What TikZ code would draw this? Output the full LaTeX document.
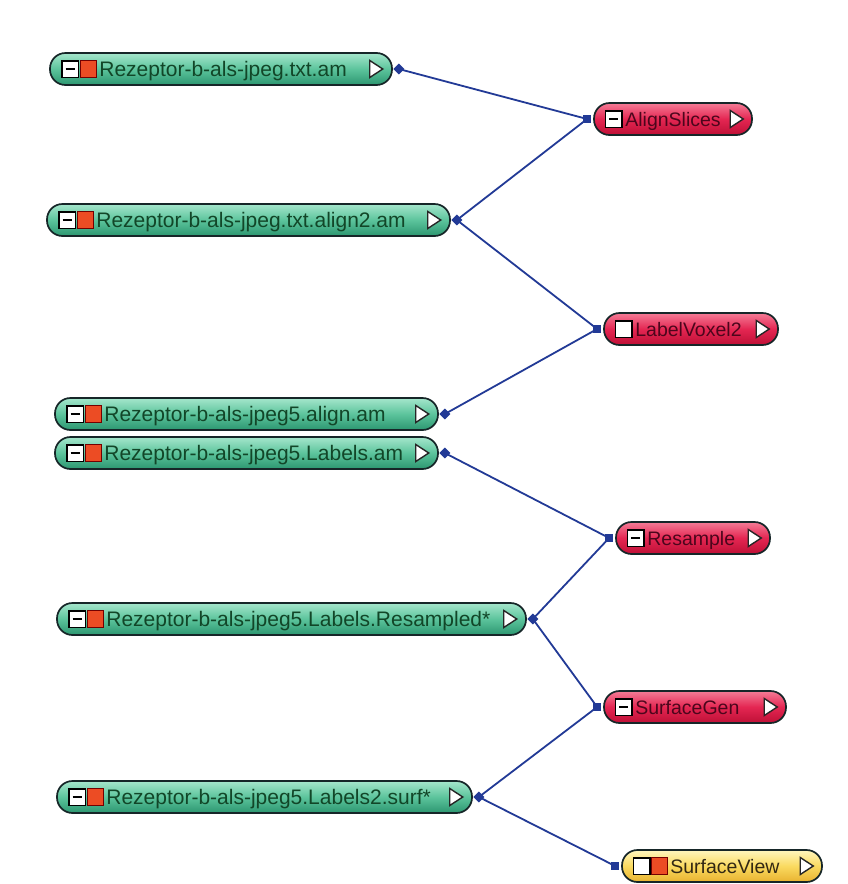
\documentclass[tikz,border=0pt]{standalone}
\usepackage{fontspec}
\setmainfont{Liberation Sans}
\usetikzlibrary{shapes.geometric}
\definecolor{dgtop}{RGB}{165,230,204}
\definecolor{dgmid}{RGB}{92,196,156}
\definecolor{dgbot}{RGB}{44,150,112}
\definecolor{rdtop}{RGB}{244,124,150}
\definecolor{rdmid}{RGB}{228,38,82}
\definecolor{rdbot}{RGB}{190,16,54}
\definecolor{yltop}{RGB}{255,246,190}
\definecolor{ylmid}{RGB}{250,218,96}
\definecolor{ylbot}{RGB}{232,178,48}
\definecolor{pillborder}{RGB}{22,38,40}
\definecolor{boxred}{RGB}{236,76,36}
\definecolor{dgtext}{RGB}{18,70,40}
\definecolor{mdtext}{RGB}{76,6,28}
\definecolor{yltext}{RGB}{50,40,20}
\definecolor{connblue}{RGB}{34,58,150}
\tikzset{
  pill/.style={rectangle, rounded corners=15.5pt, minimum height=32pt, draw=pillborder, line width=1.7pt, inner sep=0pt},
  datapill/.style={pill, top color=dgtop, bottom color=dgbot, middle color=dgmid},
  modpill/.style={pill, top color=rdtop, bottom color=rdbot, middle color=rdmid},
  viewpill/.style={pill, top color=yltop, bottom color=ylbot, middle color=ylmid},
  emptybox/.style={rectangle, draw=black, fill=white, line width=1.5pt, minimum size=16.5pt, inner sep=0pt},
  minusbox/.style={emptybox, path picture={\draw[line width=1.8pt] ([xshift=-4.5pt]path picture bounding box.center) -- ([xshift=4.5pt]path picture bounding box.center);}},
  redbox/.style={rectangle, draw=black!55!red, fill=boxred, line width=1.1pt, minimum size=16.5pt, inner sep=0pt},
  tri/.style={isosceles triangle, isosceles triangle stretches, draw=black!85, fill=white, line width=1.4pt, minimum width=17pt, minimum height=13pt, inner sep=0pt},
  dtext/.style={anchor=base west, inner sep=0pt, text=dgtext, font=\fontsize{21}{24}\selectfont},
  mtext/.style={anchor=base west, inner sep=0pt, text=mdtext, font=\fontsize{19.5}{22}\selectfont},
  vtext/.style={anchor=base west, inner sep=0pt, text=yltext, font=\fontsize{19.5}{22}\selectfont},
  outport/.style={diamond, fill=connblue, minimum size=11pt, inner sep=0pt},
  inport/.style={rectangle, fill=connblue, minimum size=8pt, inner sep=0pt},
  conn/.style={draw=connblue, line width=1.8pt}
}
\begin{document}
\begin{tikzpicture}[x=1pt,y=-1pt]
\useasboundingbox[fill=white] (0,0) rectangle (848,884);
% data nodes
\node[datapill, minimum width=342pt] (d1) at (221,69) {};
\node[datapill, minimum width=403pt] (d3) at (248.5,220) {};
\node[datapill, minimum width=383pt] (d5) at (246.5,414) {};
\node[datapill, minimum width=383pt] (d6) at (246.5,453) {};
\node[datapill, minimum width=469pt] (d8) at (291.5,619) {};
\node[datapill, minimum width=415pt] (d10) at (264.5,797) {};
% module nodes
\node[modpill, minimum width=158pt] (m2) at (673,119) {};
\node[modpill, minimum width=174pt] (m4) at (691,329) {};
\node[modpill, minimum width=154pt] (m7) at (693,538) {};
\node[modpill, minimum width=182pt] (m9) at (695,707) {};
\node[viewpill, minimum width=200pt] (m11) at (722,866) {};
% data node contents
\foreach \n/\t in {d1/{Rezeptor-b-als-jpeg.txt.am}, d3/{Rezeptor-b-als-jpeg.txt.align2.am}, d5/{Rezeptor-b-als-jpeg5.align.am}, d6/{Rezeptor-b-als-jpeg5.Labels.am}, d8/{Rezeptor-b-als-jpeg5.Labels.Resampled*}, d10/{Rezeptor-b-als-jpeg5.Labels2.surf*}}{
  \node[minusbox] (\n a) at ([xshift=21pt]\n.west) {};
  \node[redbox] (\n b) at ([xshift=39.5pt]\n.west) {};
  \node[dtext] (\n t) at ([xshift=50pt,yshift=-7.5pt]\n.west) {\t};
  \node[tri] (\n c) at ([xshift=-18.5pt]\n.east) {};
  \node[outport] (\n o) at ([xshift=6pt]\n.east) {};
}
% module contents
\node[minusbox] (m2a) at ([xshift=20.5pt]m2.west) {};
\node[mtext] (m2t) at ([xshift=32pt,yshift=-7pt]m2.west) {AlignSlices};
\node[emptybox] (m4a) at ([xshift=20.5pt]m4.west) {};
\node[mtext] (m4t) at ([xshift=32pt,yshift=-7pt]m4.west) {LabelVoxel2};
\node[minusbox] (m7a) at ([xshift=20.5pt]m7.west) {};
\node[mtext] (m7t) at ([xshift=32pt,yshift=-7pt]m7.west) {Resample};
\node[minusbox] (m9a) at ([xshift=20.5pt]m9.west) {};
\node[mtext] (m9t) at ([xshift=32pt,yshift=-7pt]m9.west) {SurfaceGen};
\node[emptybox] (m11a) at ([xshift=20.5pt]m11.west) {};
\node[redbox] (m11b) at ([xshift=38.5pt]m11.west) {};
\node[vtext] (m11t) at ([xshift=49pt,yshift=-7pt]m11.west) {SurfaceView};
\foreach \n in {m2,m4,m7,m9,m11}{
  \node[tri] (\n c) at ([xshift=-18pt]\n.east) {};
  \node[inport] (\n i) at ([xshift=-6pt]\n.west) {};
}
% connectors
\draw[conn] (d1o.center) -- (m2i.center);
\draw[conn] (d3o.center) -- (m2i.center);
\draw[conn] (d3o.center) -- (m4i.center);
\draw[conn] (d5o.center) -- (m4i.center);
\draw[conn] (d6o.center) -- (m7i.center);
\draw[conn] (d8o.center) -- (m7i.center);
\draw[conn] (d8o.center) -- (m9i.center);
\draw[conn] (d10o.center) -- (m9i.center);
\draw[conn] (d10o.center) -- (m11i.center);
\end{tikzpicture}
\end{document}
